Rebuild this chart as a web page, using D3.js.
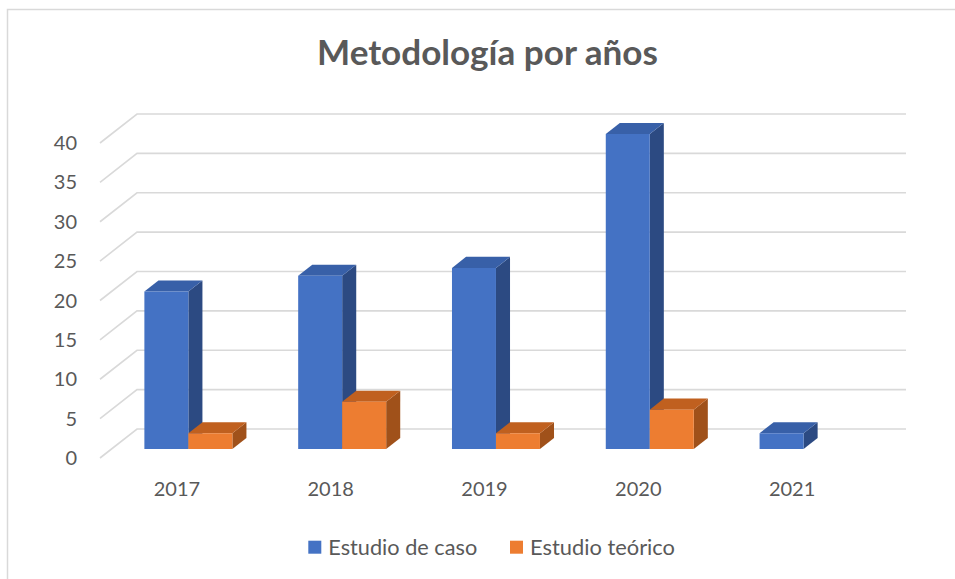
<!DOCTYPE html>
<html><head><meta charset="utf-8">
<script src="https://cdn.jsdelivr.net/npm/d3@7"></script>
<style>body{margin:0;background:#fff}svg{display:block}text{font-family:Lato,"Open Sans",sans-serif;fill:#595959}</style>
</head><body>
<svg id="c" width="955" height="579"></svg>
<script>
const title = "Metodología por años";
const years = ["2017","2018","2019","2020","2021"];
const seriesNames = ["Estudio de caso","Estudio teórico"];
const estudioCaso = [20,22,23,40,2];
const estudioTeorico = [2,6,2,5,0];
const yTicks = [0,5,10,15,20,25,30,35,40];

const colors = [
  {front:"#4472C4", top:"#3860A8", side:"#2C4A82"},
  {front:"#ED7D31", top:"#C0601F", side:"#A0511A"}
];
const values = [estudioCaso, estudioTeorico];

const svg = d3.select("#c");
// chart border
svg.append("rect").attr("x",7.5).attr("y",9.5).attr("width",1000).attr("height",1000)
  .attr("fill","none").attr("stroke","#d9d9d9").attr("stroke-width",1.5);

const DX = 37, DY = -29;
const y = d3.scaleLinear().domain([0,40]).range([458,143]);
const x = d3.scaleBand().domain(years).range([100,869]).padding(0);
const xs = d3.scaleBand().domain(seriesNames).range([0,x.bandwidth()]).paddingInner(0).paddingOuter(0.748);
const d0 = 0.31, d1 = 0.69;
const P = (px, v, d) => [px + d*DX, y(v) + d*DY];

// gridlines
const gl = svg.append("g");
yTicks.forEach(t => {
  const a = P(100,t,0), b = P(100,t,1), c = P(869,t,1);
  gl.append("polyline").attr("points",[a,b,c].map(p=>p.join(",")).join(" "))
    .attr("fill","none").attr("stroke","#d9d9d9").attr("stroke-width",1.6);
});

// y labels
svg.append("g").selectAll("text").data(yTicks).join("text")
  .attr("x",77).attr("y",t=>y(t)).attr("dy","0.35em").attr("text-anchor","end")
  .attr("font-size",20).text(t=>t);

// bars
const bars = svg.append("g");
years.forEach((yr,i) => {
  seriesNames.forEach((s,j) => {
    const v = values[j][i];
    if (!v) return;
    const x0 = x(yr) + xs(s), x1 = x0 + xs.bandwidth();
    const col = colors[j];
    const poly = pts => pts.map(p=>p.join(",")).join(" ");
    // side
    bars.append("polygon").attr("points",poly([P(x1,0,d0),P(x1,v,d0),P(x1,v,d1),P(x1,0,d1)])).attr("fill",col.side);
    // top
    bars.append("polygon").attr("points",poly([P(x0,v,d0),P(x1,v,d0),P(x1,v,d1),P(x0,v,d1)])).attr("fill",col.top);
    // front
    bars.append("polygon").attr("points",poly([P(x0,0,d0),P(x1,0,d0),P(x1,v,d0),P(x0,v,d0)])).attr("fill",col.front);
  });
});

// x labels
svg.append("g").selectAll("text").data(years).join("text")
  .attr("x",d=>x(d)+x.bandwidth()/2).attr("y",489).attr("dy","0.35em").attr("text-anchor","middle")
  .attr("font-size",20).text(d=>d);

// title
function fit(sel, w){ const n = sel.node(); const l = n.getComputedTextLength(); const fs = +sel.attr("font-size"); sel.attr("font-size", fs*w/l); }
const tt = svg.append("text").attr("x",487.5).attr("y",65).attr("text-anchor","middle")
  .attr("font-size",32).attr("font-weight","bold").text(title);
fit(tt, 341);

// legend
const lg = svg.append("g");
const legX = [308.3, 510];
seriesNames.forEach((s,j)=>{
  lg.append("rect").attr("x",legX[j]).attr("y",540.7).attr("width",13).attr("height",13).attr("fill",colors[j].front);
  const t = lg.append("text").attr("x",legX[j]+20).attr("y",547).attr("dy","0.35em").attr("font-size",20).text(s);
  fit(t, j===0?149:145);
});
</script>
</body></html>
